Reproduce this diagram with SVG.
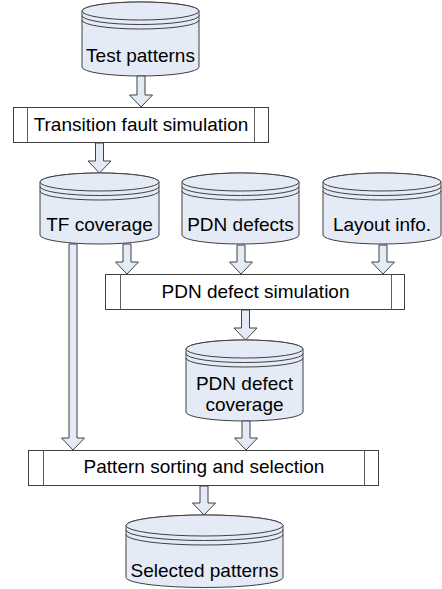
<svg xmlns="http://www.w3.org/2000/svg" width="442" height="589" viewBox="0 0 442 589">
  <style>
    .db { fill: #e4ebf7; stroke: #404040; stroke-width: 1; }
    .ring { fill: none; stroke: #404040; stroke-width: 1; }
    .proc { fill: #ffffff; stroke: #404040; stroke-width: 1; }
    .bar { fill: none; stroke: #606060; stroke-width: 1; }
    .arrow { fill: #e4ebf7; stroke: #404040; stroke-width: 1; stroke-linejoin: miter; }
    .lbl { font-family: "Liberation Sans", Arial, sans-serif; font-size: 19px; fill: #000000; text-anchor: middle; }
  </style>
  <rect width="442" height="589" fill="#ffffff"/>

  <!-- data stores -->
  <g id="test-patterns">
    <path class="db" d="M82,11 V67 A58.5,9 0 0 0 199,67 V11 A58.5,9 0 0 0 82,11 Z"/>
    <ellipse class="db" cx="140.5" cy="11" rx="58.5" ry="9"/>
    <path class="ring" d="M82,15.5 A58.5,9 0 0 0 199,15.5 M82,20 A58.5,9 0 0 0 199,20"/>
    <text class="lbl" x="140.5" y="62">Test patterns</text>
  </g>

  <g id="tf-coverage">
    <path class="db" d="M40,182 V235 A59.5,9 0 0 0 159,235 V182 A59.5,9 0 0 0 40,182 Z"/>
    <ellipse class="db" cx="99.5" cy="182" rx="59.5" ry="9"/>
    <path class="ring" d="M40,186.5 A59.5,9 0 0 0 159,186.5 M40,191 A59.5,9 0 0 0 159,191"/>
    <text class="lbl" x="99.5" y="231">TF coverage</text>
  </g>

  <g id="pdn-defects">
    <path class="db" d="M182,182 V235 A58.5,9 0 0 0 299,235 V182 A58.5,9 0 0 0 182,182 Z"/>
    <ellipse class="db" cx="240.5" cy="182" rx="58.5" ry="9"/>
    <path class="ring" d="M182,186.5 A58.5,9 0 0 0 299,186.5 M182,191 A58.5,9 0 0 0 299,191"/>
    <text class="lbl" x="240.5" y="231">PDN defects</text>
  </g>

  <g id="layout-info">
    <path class="db" d="M323,182 V235 A59,9 0 0 0 441,235 V182 A59,9 0 0 0 323,182 Z"/>
    <ellipse class="db" cx="382" cy="182" rx="59" ry="9"/>
    <path class="ring" d="M323,186.5 A59,9 0 0 0 441,186.5 M323,191 A59,9 0 0 0 441,191"/>
    <text class="lbl" x="382" y="231">Layout info.</text>
  </g>

  <g id="pdn-coverage">
    <path class="db" d="M186,349 V412 A58.5,9 0 0 0 303,412 V349 A58.5,9 0 0 0 186,349 Z"/>
    <ellipse class="db" cx="244.5" cy="349" rx="58.5" ry="9"/>
    <path class="ring" d="M186,353.5 A58.5,9 0 0 0 303,353.5 M186,358 A58.5,9 0 0 0 303,358"/>
    <text class="lbl" x="244.5" y="390">PDN defect</text>
    <text class="lbl" x="244.5" y="411">coverage</text>
  </g>

  <g id="selected-patterns">
    <path class="db" d="M126,525.5 V577.5 A78.5,10 0 0 0 283,577.5 V525.5 A78.5,10.5 0 0 0 126,525.5 Z"/>
    <ellipse class="db" cx="204.5" cy="525.5" rx="78.5" ry="10.5"/>
    <path class="ring" d="M126,530 A78.5,10.5 0 0 0 283,530 M126,534.5 A78.5,10.5 0 0 0 283,534.5"/>
    <text class="lbl" x="204.5" y="577">Selected patterns</text>
  </g>

  <!-- processes -->
  <g id="transition-fault-simulation">
    <rect class="proc" x="13.5" y="107.5" width="255" height="35"/>
    <path class="bar" d="M27.5,107.5 V142.5 M254.5,107.5 V142.5"/>
    <text class="lbl" x="141" y="131">Transition fault simulation</text>
  </g>

  <g id="pdn-defect-simulation">
    <rect class="proc" x="105.5" y="274.5" width="299" height="35"/>
    <path class="bar" d="M120.5,274.5 V309.5 M391.5,274.5 V309.5"/>
    <text class="lbl" x="255.5" y="298">PDN defect simulation</text>
  </g>

  <g id="pattern-sorting-and-selection">
    <rect class="proc" x="28.5" y="450.5" width="350" height="35"/>
    <path class="bar" d="M43.5,450.5 V485.5 M364.5,450.5 V485.5"/>
    <text class="lbl" x="204" y="473">Pattern sorting and selection</text>
  </g>

  <!-- block arrows -->
  <g id="connectors">
    <polygon class="arrow" points="137,76 145,76 145,95 152.5,95 141,107 129.5,95 137,95"/>
    <polygon class="arrow" points="95.5,143 103.5,143 103.5,161 111,161 99.5,173 88,161 95.5,161"/>
    <polygon class="arrow" points="69,244 77,244 77,438 84.5,438 73,450 61.5,438 69,438"/>
    <polygon class="arrow" points="123,244 131,244 131,262 138.5,262 127,274 115.5,262 123,262"/>
    <polygon class="arrow" points="237,245 245,245 245,262 252.5,262 241,274 229.5,262 237,262"/>
    <polygon class="arrow" points="379,245 387,245 387,262 394.5,262 383,274 371.5,262 379,262"/>
    <polygon class="arrow" points="241.5,310 249.5,310 249.5,328 257,328 245.5,340 234,328 241.5,328"/>
    <polygon class="arrow" points="242,421 250,421 250,438 257.5,438 246,450 234.5,438 242,438"/>
    <polygon class="arrow" points="200,486 208,486 208,503 215.5,503 204,515 192.5,503 200,503"/>
  </g>
</svg>
